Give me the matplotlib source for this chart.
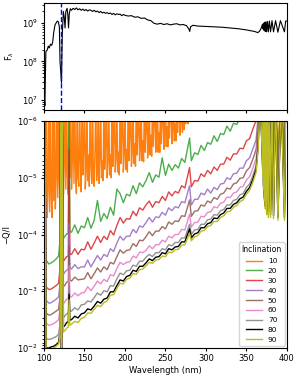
import numpy as np
import matplotlib
matplotlib.use("Agg")
import matplotlib.pyplot as plt

# ---------------- top panel: flux (log10 F_lambda) ----------------
flux_pts = [
    (100, 7.6), (100.6, 7.0), (101.1, 6.85), (101.7, 7.6), (102.3, 8.25), (104, 8.3),
    (105.3, 8.4), (106.5, 8.35), (108, 8.45), (109.5, 8.42), (110.7, 8.5), (112, 8.75),
    (113.6, 8.95), (115, 9.0), (116.5, 9.05), (117.7, 9.03), (119, 8.9), (119.8, 8.0),
    (121.6, 7.45), (122.6, 8.7), (123.9, 9.3), (125, 9.15), (126, 8.87), (127, 9.3),
    (128.5, 9.38), (129.5, 9.2), (130.3, 8.87), (131.3, 9.25), (132.5, 9.37),
    (134, 9.33), (136, 9.38), (138, 9.35), (140, 9.39), (142, 9.34), (144, 9.37),
    (146, 9.33), (148, 9.36), (150, 9.32), (152, 9.35), (154, 9.31), (156, 9.34),
    (158, 9.33), (160, 9.30), (162, 9.33), (164, 9.29), (166, 9.31), (168, 9.27),
    (170, 9.30), (172, 9.26), (174, 9.28), (176, 9.25), (178, 9.27), (180, 9.24),
    (182, 9.26), (184, 9.22), (186, 9.25), (188, 9.21), (190, 9.24), (192, 9.22),
    (194, 9.23), (196, 9.19), (198, 9.22), (200, 9.20), (204, 9.18), (208, 9.19),
    (212, 9.15), (216, 9.16), (220, 9.12), (224, 9.13), (228, 9.08), (232, 9.06),
    (236, 8.99), (240, 8.97), (244, 8.99), (248, 8.96), (252, 8.98), (256, 8.95),
    (260, 8.97), (264, 8.98), (268, 8.95), (272, 8.96), (276, 8.93), (279, 8.84),
    (280, 8.78), (281, 8.90), (284, 8.94), (290, 8.92), (300, 8.91), (310, 8.90),
    (320, 8.89), (330, 8.87), (340, 8.85), (350, 8.82), (360, 8.78), (364, 8.75),
    (366, 8.78), (368, 8.85), (369.5, 8.95), (370.4, 8.85), (370.8, 8.98), (371.2, 8.82),
    (371.7, 9.0), (372.2, 8.8), (372.8, 9.02), (373.4, 8.78), (374.2, 9.03), (375.0, 8.77),
    (376, 9.04), (377.1, 8.77), (378.4, 9.05), (379.8, 8.77), (381.6, 9.06), (383.5, 8.77),
    (386, 9.06), (388.9, 8.76), (392, 9.06), (397.0, 8.77), (398.5, 9.05), (400, 9.05),
]
wl_flux = [p[0] for p in flux_pts]
logF = [p[1] for p in flux_pts]

lyman_alpha = 121.6

# ---------------- bottom panel: log10(-Q/I) ----------------
wl_q = [100, 101, 102.5, 104, 106, 109, 112, 115, 118,
        119.5, 120.5, 121.6, 122.5, 124, 126, 128, 130, 131, 132,
        134, 138, 142, 146, 150, 154, 158, 162, 166, 170, 174, 178, 182, 186, 190, 194,
        198, 202, 206, 210, 214, 218, 222, 226, 230, 234, 238, 242, 246, 250, 254, 258,
        262, 266, 270, 274, 279.8, 282, 286, 290, 294, 298, 302, 306, 310, 314, 318, 322,
        326, 330, 334, 338, 342, 346, 350, 354, 358, 362,
        364.5, 367, 370.4, 370.8, 371.2, 371.7, 372.2, 372.8, 373.4, 374.2, 375.0, 376,
        377.1, 378.4, 379.8, 381.6, 383.5, 386, 388.9, 393, 397.0, 398.5, 400]

q20 = [-1.9, -6.5, -3.55, -3.52, -3.48, -3.50, -3.53, -3.57, -3.62,
       -3.85, -6.5, -1.5, -6.5, -3.93, -3.97, -4.01, -4.02, -6.5, -4.05,
       -4.04, -4.17, -4.02, -4.15, -4.12, -4.30, -4.11, -4.25, -4.60, -4.23, -4.37, -4.28,
       -4.48, -4.34, -4.80, -4.72, -4.56, -4.71, -4.68, -4.86, -4.72, -4.91, -4.84, -4.95,
       -5.09, -4.92, -5.05, -5.01, -5.35, -5.04, -5.24, -5.13, -5.23, -5.17, -5.34, -5.27,
       -5.70, -5.30, -5.44, -5.41, -5.57, -5.48, -5.62, -5.59, -5.74, -5.64, -5.78, -5.76,
       -5.91, -5.82, -5.96, -5.94, -6.05, -6.1, -6.2, -6.3, -6.4, -6.5,
       -6.5, -6.5, -6.0, -6.5, -5.8, -6.5, -5.6, -6.5, -5.45, -6.5, -5.35, -6.5,
       -5.3, -6.5, -5.3, -6.5, -5.28, -6.5, -5.25, -6.5, -5.25, -6.5, -6.5]
q30 = [-1.9, -6.5, -3.08, -3.06, -3.03, -3.04, -3.07, -3.10, -3.14,
       -3.35, -6.5, -1.5, -6.5, -3.53, -3.57, -3.61, -3.62, -5.5, -3.65,
       -3.65, -3.75, -3.65, -3.74, -3.73, -3.87, -3.74, -3.85, -3.97, -3.86, -3.97, -3.91,
       -4.07, -3.99, -4.16, -4.30, -4.20, -4.28, -4.27, -4.41, -4.33, -4.47, -4.43, -4.52,
       -4.59, -4.48, -4.58, -4.56, -4.67, -4.60, -4.75, -4.68, -4.76, -4.73, -4.86, -4.82,
       -5.18, -4.84, -4.95, -4.94, -5.07, -5.02, -5.13, -5.07, -5.19, -5.13, -5.24, -5.24,
       -5.36, -5.31, -5.42, -5.42, -5.52, -5.51, -5.65, -5.69, -5.86, -6.01,
       -6.5, -6.5, -5.58, -6.5, -5.38, -6.5, -5.18, -6.5, -5.03, -6.5, -4.93, -6.5,
       -4.88, -6.5, -4.88, -6.5, -4.86, -6.5, -4.83, -6.5, -4.83, -6.5, -6.5]
q40 = [-1.9, -6.5, -2.84, -2.82, -2.79, -2.80, -2.83, -2.86, -2.90,
       -3.08, -6.5, -1.5, -6.5, -3.30, -3.34, -3.37, -3.39, -4.2, -3.42,
       -3.39, -3.47, -3.40, -3.43, -3.43, -3.55, -3.43, -3.53, -3.63, -3.55, -3.65, -3.61,
       -3.75, -3.70, -3.85, -3.97, -3.90, -3.97, -3.97, -4.09, -4.03, -4.15, -4.13, -4.21,
       -4.30, -4.22, -4.31, -4.30, -4.39, -4.34, -4.47, -4.42, -4.49, -4.47, -4.58, -4.56,
       -4.86, -4.52, -4.62, -4.62, -4.73, -4.70, -4.80, -4.73, -4.83, -4.79, -4.89, -4.90,
       -5.00, -4.97, -5.07, -5.08, -5.17, -5.17, -5.30, -5.35, -5.51, -5.67,
       -6.1, -6.5, -5.35, -6.5, -5.15, -6.5, -4.95, -6.5, -4.8, -6.5, -4.7, -6.5,
       -4.65, -6.5, -4.65, -6.5, -4.63, -6.5, -4.6, -6.5, -4.6, -6.5, -6.5]
q50 = [-1.9, -6.5, -2.62, -2.60, -2.58, -2.59, -2.62, -2.65, -2.68,
       -2.86, -6.5, -1.5, -6.5, -3.08, -3.11, -3.16, -3.17, -3.80, -3.20,
       -3.18, -3.25, -3.20, -3.21, -3.22, -3.33, -3.22, -3.31, -3.41, -3.34, -3.43, -3.38,
       -3.51, -3.48, -3.61, -3.73, -3.67, -3.72, -3.73, -3.84, -3.79, -3.90, -3.89, -3.96,
       -4.05, -3.98, -4.06, -4.06, -4.14, -4.10, -4.22, -4.18, -4.24, -4.23, -4.33, -4.32,
       -4.61, -4.32, -4.41, -4.42, -4.52, -4.50, -4.59, -4.56, -4.65, -4.62, -4.71, -4.73,
       -4.82, -4.80, -4.89, -4.91, -4.99, -5.00, -5.12, -5.18, -5.33, -5.50,
       -5.92, -6.5, -5.28, -6.5, -5.08, -6.5, -4.88, -6.5, -4.73, -6.5, -4.63, -6.5,
       -4.58, -6.5, -4.58, -6.5, -4.56, -6.5, -4.53, -6.5, -4.53, -6.5, -6.5]
q60 = [-1.9, -6.5, -2.44, -2.42, -2.40, -2.41, -2.43, -2.46, -2.50,
       -2.66, -6.5, -1.5, -6.5, -2.78, -2.82, -2.86, -2.87, -3.45, -2.90,
       -2.90, -2.97, -2.92, -2.97, -2.98, -3.08, -3.01, -3.09, -3.18, -3.13, -3.21, -3.17,
       -3.29, -3.27, -3.40, -3.51, -3.47, -3.51, -3.52, -3.62, -3.59, -3.69, -3.68, -3.72,
       -3.80, -3.75, -3.82, -3.82, -3.90, -3.87, -3.97, -3.94, -4.00, -4.00, -4.09, -4.08,
       -4.36, -4.13, -4.21, -4.22, -4.32, -4.31, -4.39, -4.40, -4.49, -4.47, -4.55, -4.57,
       -4.66, -4.65, -4.73, -4.75, -4.83, -4.85, -4.96, -5.02, -5.17, -5.34,
       -5.76, -6.5, -5.2, -6.5, -5.0, -6.5, -4.8, -6.5, -4.65, -6.5, -4.55, -6.5,
       -4.5, -6.5, -4.5, -6.5, -4.48, -6.5, -4.45, -6.5, -4.45, -6.5, -6.5]
q70 = [-1.9, -6.5, -2.18, -2.16, -2.15, -2.16, -2.18, -2.20, -2.24,
       -2.40, -6.5, -1.5, -6.5, -2.53, -2.57, -2.60, -2.62, -3.15, -2.65,
       -2.65, -2.71, -2.67, -2.76, -2.77, -2.83, -2.81, -2.89, -2.97, -2.93, -3.01, -2.99,
       -3.10, -3.09, -3.22, -3.32, -3.29, -3.36, -3.37, -3.46, -3.44, -3.53, -3.53, -3.60,
       -3.65, -3.61, -3.68, -3.68, -3.75, -3.73, -3.82, -3.80, -3.86, -3.86, -3.94, -3.94,
       -4.18, -4.00, -4.08, -4.09, -4.18, -4.18, -4.26, -4.27, -4.35, -4.34, -4.42, -4.44,
       -4.52, -4.52, -4.60, -4.62, -4.70, -4.72, -4.83, -4.89, -5.04, -5.21,
       -5.64, -6.5, -5.12, -6.5, -4.92, -6.5, -4.72, -6.5, -4.57, -6.5, -4.47, -6.5,
       -4.42, -6.5, -4.42, -6.5, -4.4, -6.5, -4.37, -6.5, -4.37, -6.5, -6.5]
q80 = [-1.9, -6.5, -2.02, -2.00, -2.00, -2.02, -2.03, -2.06, -2.10,
       -2.25, -6.5, -1.5, -6.5, -2.37, -2.40, -2.45, -2.46, -2.95, -2.49,
       -2.50, -2.56, -2.53, -2.60, -2.62, -2.69, -2.67, -2.74, -2.82, -2.79, -2.86, -2.88,
       -2.99, -2.99, -3.10, -3.20, -3.18, -3.26, -3.28, -3.37, -3.35, -3.44, -3.44, -3.50,
       -3.57, -3.54, -3.60, -3.61, -3.68, -3.66, -3.75, -3.73, -3.78, -3.79, -3.87, -3.87,
       -4.10, -3.94, -4.01, -4.03, -4.12, -4.12, -4.19, -4.21, -4.29, -4.28, -4.35, -4.38,
       -4.46, -4.46, -4.53, -4.56, -4.63, -4.66, -4.76, -4.83, -4.97, -5.15,
       -5.56, -6.5, -5.05, -6.5, -4.85, -6.5, -4.65, -6.5, -4.5, -6.5, -4.4, -6.5,
       -4.35, -6.5, -4.35, -6.5, -4.33, -6.5, -4.3, -6.5, -4.3, -6.5, -6.5]
q90 = [-1.9, -6.5, -1.96, -1.94, -1.95, -1.97, -2.00, -2.03, -2.07,
       -2.18, -6.5, -1.5, -6.5, -2.28, -2.31, -2.35, -2.37, -2.85, -2.40,
       -2.42, -2.47, -2.45, -2.52, -2.54, -2.62, -2.61, -2.68, -2.75, -2.73, -2.80, -2.83,
       -2.93, -2.94, -3.05, -3.14, -3.13, -3.21, -3.23, -3.31, -3.30, -3.38, -3.39, -3.45,
       -3.51, -3.49, -3.55, -3.56, -3.62, -3.61, -3.69, -3.68, -3.73, -3.74, -3.81, -3.82,
       -4.02, -3.89, -3.96, -3.98, -4.06, -4.07, -4.14, -4.16, -4.23, -4.23, -4.30, -4.33,
       -4.40, -4.41, -4.48, -4.51, -4.58, -4.61, -4.71, -4.78, -4.92, -5.10,
       -5.5, -6.5, -5.0, -6.5, -4.8, -6.5, -4.6, -6.5, -4.45, -6.5, -4.35, -6.5,
       -4.3, -6.5, -4.3, -6.5, -4.28, -6.5, -4.25, -6.5, -4.25, -6.5, -6.5]

# inclination 10 deg has its own (finer, 1 nm) wavelength sampling
wl_q10 = list(range(100, 291)) + [
    364.5, 367, 370.4, 370.8, 371.2, 371.7, 372.2, 372.8, 373.4, 374.2, 375.0, 376,
    377.1, 378.4, 379.8, 381.6, 383.5, 386, 388.9, 393, 397.0, 398.5, 400]
q10 = [
    -4.05, -6.5, -4.25, -6.5, -4.3, -4.8, -6.5, -4.4, -6.5, -4.65,      # 100-109
    -4.3, -6.5, -4.6, -6.5, -4.45, -5.0, -6.5, -4.65, -6.5, -4.9,       # 110-119
    -4.6, -6.5, -4.9, -6.5, -4.7, -5.2, -6.5, -4.8, -6.5, -5.05,        # 120-129
    -4.7, -6.5, -5.0, -6.5, -4.8, -5.3, -6.5, -4.9, -6.5, -5.15,        # 130-139
    -4.72, -6.5, -5.0, -4.85, -6.5, -5.3, -4.75, -6.5, -5.05, -5.5,     # 140-149
    -6.5, -4.8, -5.1, -6.5, -4.95, -5.4, -4.85, -6.5, -5.2, -4.9,       # 150-159
    -6.5, -5.0, -4.85, -5.5, -6.5, -4.95, -5.2, -6.5, -4.9, -5.35,      # 160-169
    -6.5, -5.0, -5.3, -4.95, -6.5, -5.15, -5.6, -6.5, -5.0, -5.3,       # 170-179
    -6.5, -5.05, -5.4, -5.0, -6.5, -5.2, -5.7, -6.5, -5.1, -5.35,       # 180-189
    -6.5, -5.1, -5.45, -5.05, -6.5, -5.25, -5.75, -6.5, -5.1, -5.4,     # 190-199
    -6.5, -5.15, -5.5, -5.1, -6.5, -5.3, -5.8, -6.5, -5.2, -5.45,       # 200-209
    -6.5, -5.25, -5.6, -5.2, -6.5, -5.4, -5.85, -6.5, -5.3, -5.55,      # 210-219
    -6.5, -5.3, -5.65, -5.28, -6.5, -5.45, -5.9, -6.5, -5.35, -5.6,     # 220-229
    -6.5, -5.4, -5.75, -5.38, -6.5, -5.55, -6.0, -6.5, -5.45, -5.7,     # 230-239
    -6.5, -5.45, -5.8, -5.45, -6.5, -5.6, -6.05, -6.5, -5.5, -5.75,     # 240-249
    -6.5, -5.55, -5.9, -5.55, -6.5, -5.7, -6.1, -6.5, -5.6, -5.85,      # 250-259
    -6.5, -5.65, -5.95, -5.65, -6.5, -5.8, -6.2, -6.5, -5.75, -5.95,    # 260-269
    -6.5, -5.8, -6.1, -5.85, -6.5, -5.95, -6.3, -6.5, -5.95, -6.2,      # 270-279
    -6.5, -6.05, -6.5, -6.1, -6.5, -6.5, -6.15, -6.5, -6.5, -6.5, -6.5, # 280-290
    -6.5, -6.5, -6.3, -6.5, -6.1, -6.5, -5.9, -6.5, -5.75, -6.5, -5.65, -6.5,
    -5.6, -6.5, -5.6, -6.5, -5.58, -6.5, -5.55, -6.5, -5.55, -6.5, -6.5]

inclinations = ["10", "20", "30", "40", "50", "60", "70", "80", "90"]
series = [q10, q20, q30, q40, q50, q60, q70, q80, q90]
colors = ["tab:orange", "tab:green", "tab:red", "tab:purple", "tab:brown",
          "tab:pink", "tab:gray", "black", "tab:olive"]
alphas = [1.0, 0.85, 0.85, 0.85, 0.85, 0.85, 0.85, 1.0, 1.0]

for name, s in zip(inclinations[1:], series[1:]):
    if len(s) != len(wl_q):
        raise SystemExit(f"length mismatch {name}: {len(s)} vs {len(wl_q)}")
if len(q10) != len(wl_q10):
    raise SystemExit(f"length mismatch 10: {len(q10)} vs {len(wl_q10)}")

# ---------------- figure ----------------
fig = plt.figure(figsize=(3.04, 3.81), dpi=100)
ax1 = fig.add_axes([0.1447, 0.7113, 0.799, 0.2808])
ax2 = fig.add_axes([0.1447, 0.0866, 0.799, 0.5958])

fs = 6
for ax in (ax1, ax2):
    ax.tick_params(which="major", length=2.5, pad=2, labelsize=fs)
    ax.tick_params(which="minor", length=1.5)

ax1.plot(wl_flux, 10 ** np.array(logF), color="black", lw=0.8)
ax1.axvline(lyman_alpha, color="b", ls="--", lw=1.0)
ax1.set_yscale("log")
ax1.set_ylim(5.5e6, 3.3e9)
ax1.set_xlim(100, 400)
ax1.set_xticks([100, 150, 200, 250, 300, 350, 400])
ax1.tick_params(labelbottom=False)
ax1.set_ylabel(r"F$_\lambda$", fontsize=fs)

ax2.axvline(lyman_alpha, color="b", ls="--", lw=1.0, zorder=1)
for i, (lab, s) in enumerate(zip(inclinations, series)):
    x = wl_q10 if i == 0 else wl_q
    ax2.plot(x, 10 ** np.array(s), color=colors[i], lw=1.0, alpha=alphas[i],
             label=lab, zorder=2)
ax2.set_yscale("log")
ax2.set_ylim(1e-2, 1e-6)
ax2.set_xlim(100, 400)
ax2.set_xticks([100, 150, 200, 250, 300, 350, 400])
ax2.set_xlabel("Wavelength (nm)", fontsize=fs, labelpad=2)
ax2.set_ylabel("\u2212Q/I", fontsize=fs)
leg = ax2.legend(title="Inclination", loc="lower right", fontsize=5.3,
                 title_fontsize=5.5, labelspacing=0.5, handlelength=2.2,
                 borderaxespad=0.3, borderpad=0.4)

fig.savefig("out.png", dpi=100)
